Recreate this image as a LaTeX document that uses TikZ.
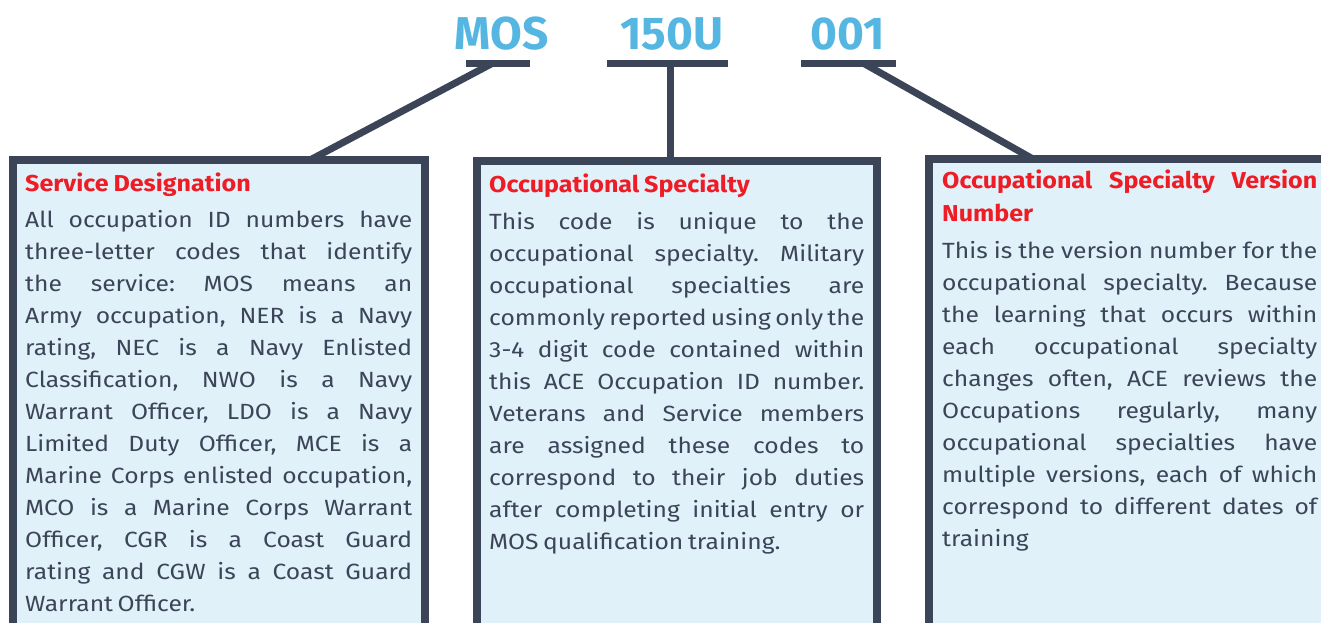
\documentclass[tikz,border=0pt]{standalone}
\usepackage{fontspec}
\setmainfont{Fira Sans}
\newfontfamily\bodyface{Fira Sans}[FakeStretch=1.12]
\newfontfamily\headface{Fira Sans}[FakeStretch=1.09]
\definecolor{frame}{HTML}{3C4458}
\definecolor{boxfill}{HTML}{E1F1FA}
\definecolor{headred}{HTML}{EE1C25}
\definecolor{codeblue}{HTML}{56B6E2}
\newcommand{\bodyfnt}{\bodyface\fontsize{22}{32}\selectfont}
\newcommand{\headfnt}{\headface\fontsize{23}{33}\selectfont\bfseries}
\newcommand{\codefnt}{\fontsize{46}{50}\selectfont\bfseries}
\newcommand{\prep}{\frenchspacing\hyphenpenalty=10000\exhyphenpenalty=10000\tolerance=10000\emergencystretch=0pt\spaceskip=0.21em plus 1.5em minus 0.08em\relax}
\begin{document}
\begin{tikzpicture}[x=1pt,y=-1pt,
  bx/.style={draw=frame, line width=8pt, fill=boxfill, rectangle, inner sep=0pt, outer sep=0pt, anchor=north west},
  conn/.style={draw=frame, line width=7pt},
  ubar/.style={fill=frame, rectangle, inner sep=0pt, outer sep=0pt, minimum height=7pt},
  code/.style={text=codeblue, font=\codefnt, inner sep=0pt, anchor=base},
  head/.style={text=headred, font=\headfnt, inner sep=0pt, anchor=base west, align=justify},
  body/.style={text=frame, font=\bodyfnt, inner sep=0pt, anchor=base west, align=justify}]
\useasboundingbox (0,0) rectangle (1321,623);
\begin{scope}
\clip (0,0) rectangle (1321,623);
% boxes
\node[bx, minimum width=412pt, minimum height=520pt] (b1) at (12.5,160) {};
\node[bx, minimum width=400pt, minimum height=520pt] (b2) at (477,161) {};
\node[bx, minimum width=430pt, minimum height=520pt] (b3) at (929,159) {};
% underline bars
\node[ubar, minimum width=64pt] (bar1) at (498,63.5) {};
\node[ubar, minimum width=121pt] (bar2) at (667.5,63.5) {};
\node[ubar, minimum width=95pt] (bar3) at (848.5,63.5) {};
% connector ends
\coordinate (c1a) at (493,63);
\coordinate (c1b) at (310,160);
\coordinate (c3a) at (863,63);
\coordinate (c3b) at (1033,159);
\draw[conn] (c1a) -- (c1b);
\draw[conn] (bar2.center -| 670.5,0) -- (b2.north -| 670.5,0);
\draw[conn] (c3a) -- (c3b);
\end{scope}
% codes
\node[code] (t1) at (501.5,50) {MOS};
\node[code] (t2) at (672,50) {150U};
\node[code] (t3) at (847.5,50) {001};
% box 1 text
\node[head, text width=387pt] (h1) at (25,191) {\prep Service Designation};
\node[body, text width=387pt] (p1) at (25,227) {\prep
All occupation ID numbers have\linebreak
three-letter codes that identify\linebreak
the service: MOS means an\linebreak
Army occupation, NER is a Navy\linebreak
rating, NEC is a Navy Enlisted\linebreak
Classification, NWO is a Navy\linebreak
Warrant Officer, LDO is a Navy\linebreak
Limited Duty Officer, MCE is a\linebreak
Marine Corps enlisted occupation,\linebreak
MCO is a Marine Corps Warrant\linebreak
Officer, CGR is a Coast Guard\linebreak
rating and CGW is a Coast Guard\linebreak
Warrant Officer.};
% box 2 text
\node[head, text width=375pt] (h2) at (489,192) {\prep Occupational Specialty};
\node[body, text width=375pt] (p2) at (489,229) {\prep
This code is unique to the\linebreak
occupational specialty. Military\linebreak
occupational specialties are\linebreak
commonly reported using only the\linebreak
3-4 digit code contained within\linebreak
this ACE Occupation ID number.\linebreak
Veterans and Service members\linebreak
are assigned these codes to\linebreak
correspond to their job duties\linebreak
after completing initial entry or\linebreak
MOS qualification training.};
% box 3 text
\node[head, text width=375pt] (h3) at (942,188) {\prep Occupational Specialty Version\linebreak Number};
\node[body, text width=375pt] (p3) at (942,258) {\prep
This is the version number for the\linebreak
occupational specialty. Because\linebreak
the learning that occurs within\linebreak
each occupational specialty\linebreak
changes often, ACE reviews the\linebreak
Occupations regularly, many\linebreak
occupational specialties have\linebreak
multiple versions, each of which\linebreak
correspond to different dates of\linebreak
training};
\end{tikzpicture}
\end{document}
